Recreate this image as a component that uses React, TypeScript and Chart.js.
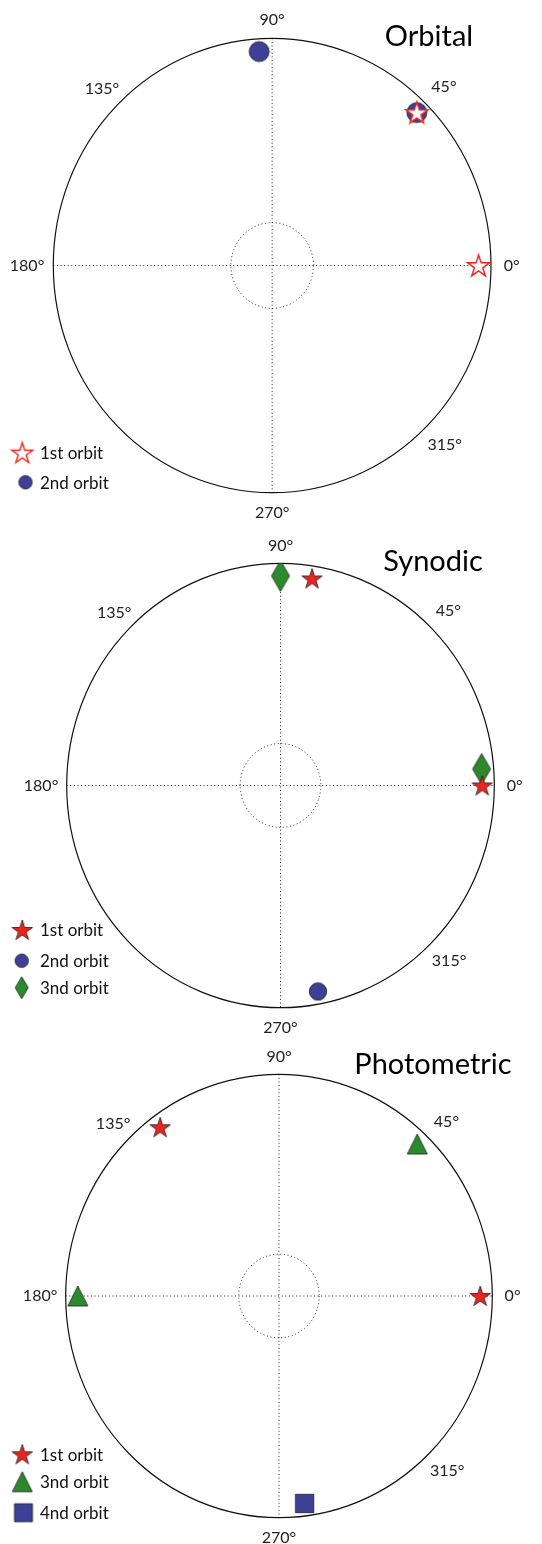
import React, { useEffect, useRef } from "react";
import { Chart, registerables } from "chart.js";
Chart.register(...registerables);

// ---------- data ----------
const RMAX = 1.06;
const GRID_R = 0.2;
const angleTicks = [0, 45, 90, 135, 180, 270, 315];
const angleTickLabels = ["0°", "45°", "90°", "135°", "180°", "270°", "315°"];
const angleLabelOffset = [1.095, 1.11, 1.08, 1.1, 1.12, 1.09, 1.115];

// Orbital
const orbital1stAngles = [45.5, 0];
const orbital1stRadii = [1, 1];
const orbital2ndAngles = [93.6, 45.5];
const orbital2ndRadii = [1, 1];

// Synodic
const synodic1stAngles = [81, 0];
const synodic1stRadii = [1, 1];
const synodic2ndAngles = [280.7];
const synodic2ndRadii = [1];
const synodic3rdAngles = [90, 4.5];
const synodic3rdRadii = [1, 1];

// Photometric
const photo1stAngles = [126.2, 0];
const photo1stRadii = [1, 1];
const photo3rdAngles = [46.6, 180];
const photo3rdRadii = [1, 1];
const photo4thAngles = [277.3];
const photo4thRadii = [1];

const RED = "#e8251f";
const BLUE = "#3c4097";
const GREEN = "#2b8a2b";
const EDGE = "#1e1e1e";
const FONT = "Lato";

// ---------- marker images ----------
function mk(w: number, h: number, draw: (c: CanvasRenderingContext2D, cx: number, cy: number) => void) {
  const c = document.createElement("canvas");
  c.width = Math.ceil(w + 4);
  c.height = Math.ceil(h + 4);
  const ctx = c.getContext("2d")!;
  draw(ctx, c.width / 2, c.height / 2);
  return c;
}
function starPath(ctx: CanvasRenderingContext2D, cx: number, cy: number, r: number) {
  const ri = r * 0.382;
  ctx.beginPath();
  for (let i = 0; i < 10; i++) {
    const rr = i % 2 === 0 ? r : ri;
    const a = -Math.PI / 2 + (i * Math.PI) / 5;
    const x = cx + rr * Math.cos(a);
    const y = cy + rr * Math.sin(a);
    if (i === 0) ctx.moveTo(x, y);
    else ctx.lineTo(x, y);
  }
  ctx.closePath();
}
function star(r: number, fill: string, stroke: string, lw: number) {
  return mk(2 * r, 2 * r, (ctx, cx, cy) => {
    starPath(ctx, cx, cy + r * 0.08, r);
    ctx.fillStyle = fill;
    ctx.fill();
    ctx.lineWidth = lw;
    ctx.strokeStyle = stroke;
    ctx.lineJoin = "miter";
    ctx.stroke();
  });
}
function circle(r: number, fill: string) {
  return mk(2 * r, 2 * r, (ctx, cx, cy) => {
    ctx.beginPath();
    ctx.arc(cx, cy, r, 0, Math.PI * 2);
    ctx.fillStyle = fill;
    ctx.fill();
    ctx.lineWidth = 0.8;
    ctx.strokeStyle = EDGE;
    ctx.stroke();
  });
}
function diamond(hw: number, hh: number, fill: string) {
  return mk(2 * hw, 2 * hh, (ctx, cx, cy) => {
    ctx.beginPath();
    ctx.moveTo(cx, cy - hh);
    ctx.lineTo(cx + hw, cy);
    ctx.lineTo(cx, cy + hh);
    ctx.lineTo(cx - hw, cy);
    ctx.closePath();
    ctx.fillStyle = fill;
    ctx.fill();
    ctx.lineWidth = 0.8;
    ctx.strokeStyle = EDGE;
    ctx.stroke();
  });
}
function triangle(h: number, fill: string) {
  return mk(2 * h, 2 * h, (ctx, cx, cy) => {
    ctx.beginPath();
    ctx.moveTo(cx, cy - h);
    ctx.lineTo(cx + h, cy + h);
    ctx.lineTo(cx - h, cy + h);
    ctx.closePath();
    ctx.fillStyle = fill;
    ctx.fill();
    ctx.lineWidth = 0.8;
    ctx.strokeStyle = EDGE;
    ctx.stroke();
  });
}
function square(h: number, fill: string) {
  return mk(2 * h, 2 * h, (ctx, cx, cy) => {
    ctx.beginPath();
    ctx.rect(cx - h, cy - h, 2 * h, 2 * h);
    ctx.fillStyle = fill;
    ctx.fill();
    ctx.lineWidth = 0.8;
    ctx.strokeStyle = EDGE;
    ctx.stroke();
  });
}

function toXY(angles: number[], radii: number[]) {
  return angles.map((a, i) => ({
    x: radii[i] * Math.cos((a * Math.PI) / 180),
    y: radii[i] * Math.sin((a * Math.PI) / 180),
  }));
}

type LegendItem = { label: string; img: HTMLCanvasElement; x: number; y: number };
type PanelDef = {
  top: number;
  height: number;
  padding: { left: number; right: number; top: number; bottom: number };
  title: string;
  titleX: number;
  titleY: number;
  datasets: { label: string; data: { x: number; y: number }[]; img: HTMLCanvasElement }[];
  legend: LegendItem[];
};

function Panel({ def }: { def: PanelDef }) {
  const ref = useRef<HTMLCanvasElement>(null);
  useEffect(() => {
    const polarPlugin = {
      id: "polarDeco",
      beforeDatasetsDraw(chart: any) {
        const ctx = chart.ctx as CanvasRenderingContext2D;
        const xs = chart.scales.x;
        const ys = chart.scales.y;
        const cx = xs.getPixelForValue(0);
        const cy = ys.getPixelForValue(0);
        const rx = xs.getPixelForValue(RMAX) - cx;
        const ry = cy - ys.getPixelForValue(RMAX);
        ctx.save();
        // dotted grid
        ctx.strokeStyle = "#222";
        ctx.lineWidth = 1;
        ctx.setLineDash([1, 2.6]);
        ctx.beginPath();
        ctx.moveTo(cx - rx, cy);
        ctx.lineTo(cx + rx, cy);
        ctx.moveTo(cx, cy - ry);
        ctx.lineTo(cx, cy + ry);
        ctx.stroke();
        const gx = xs.getPixelForValue(GRID_R) - cx;
        const gy = cy - ys.getPixelForValue(GRID_R);
        ctx.beginPath();
        ctx.ellipse(cx, cy, gx, gy, 0, 0, Math.PI * 2);
        ctx.stroke();
        ctx.setLineDash([]);
        // outer circle
        ctx.strokeStyle = "#111";
        ctx.lineWidth = 1.2;
        ctx.beginPath();
        ctx.ellipse(cx, cy, rx, ry, 0, 0, Math.PI * 2);
        ctx.stroke();
        // angle labels
        ctx.fillStyle = "#222";
        ctx.font = `16px ${FONT}`;
        ctx.textAlign = "center";
        ctx.textBaseline = "middle";
        angleTicks.forEach((a, i) => {
          const rr = RMAX * angleLabelOffset[i];
          const px = xs.getPixelForValue(rr * Math.cos((a * Math.PI) / 180));
          const py = ys.getPixelForValue(rr * Math.sin((a * Math.PI) / 180));
          ctx.fillText(angleTickLabels[i], px, py);
        });
        ctx.restore();
      },
      afterDraw(chart: any) {
        const ctx = chart.ctx as CanvasRenderingContext2D;
        ctx.save();
        ctx.fillStyle = "#000";
        ctx.font = `29px ${FONT}`;
        ctx.textAlign = "center";
        ctx.textBaseline = "alphabetic";
        ctx.fillText(def.title, def.titleX, def.titleY);
        ctx.font = `17px ${FONT}`;
        ctx.textAlign = "left";
        ctx.textBaseline = "middle";
        ctx.fillStyle = "#111";
        def.legend.forEach((it) => {
          ctx.drawImage(it.img, it.x - it.img.width / 2, it.y - it.img.height / 2);
          ctx.fillText(it.label, 40, it.y + 1);
        });
        ctx.restore();
      },
    };
    const chart = new Chart(ref.current!, {
      type: "scatter",
      data: {
        datasets: def.datasets.map((d) => ({
          label: d.label,
          data: d.data,
          pointStyle: d.img as any,
          pointRadius: 10,
          showLine: false,
        })),
      },
      options: {
        responsive: false,
        animation: false,
        events: [],
        devicePixelRatio: 1,
        layout: { padding: def.padding },
        plugins: { legend: { display: false }, tooltip: { enabled: false }, title: { display: false } },
        scales: {
          x: { type: "linear", min: -RMAX, max: RMAX, display: false },
          y: { type: "linear", min: -RMAX, max: RMAX, display: false },
        },
      },
      plugins: [polarPlugin],
    });
    return () => chart.destroy();
  }, [def]);
  return (
    <canvas
      ref={ref}
      width={542}
      height={def.height}
      style={{ position: "absolute", left: 0, top: def.top, width: 542, height: def.height }}
    />
  );
}

function buildPanels(): PanelDef[] {
  const openStar = star(11.5, "#ffffff", RED, 1.5);
  const openStarLeg = star(11, "#ffffff", RED, 1.4);
  const bigCircle = circle(10, BLUE);
  const legCircle = circle(6.7, BLUE);
  const redStar = star(10.8, RED, EDGE, 0.8);
  const legRedStar = star(10.8, RED, EDGE, 0.8);
  const midCircle = circle(8.7, BLUE);
  const bigDiamond = diamond(9, 15.5, GREEN);
  const legDiamond = diamond(6.5, 11, GREEN);
  const tri = triangle(10, GREEN);
  const legTri = triangle(10, GREEN);
  const sq = square(9.2, BLUE);
  const legSq = square(9, BLUE);

  return [
    {
      top: 0,
      height: 540,
      padding: { left: 53.3, right: 51, top: 38.3, bottom: 47.3 },
      title: "Orbital",
      titleX: 429,
      titleY: 46,
      datasets: [
        { label: "1st orbit", data: toXY(orbital1stAngles, orbital1stRadii), img: openStar },
        { label: "2nd orbit", data: toXY(orbital2ndAngles, orbital2ndRadii), img: bigCircle },
      ],
      legend: [
        { label: "1st orbit", img: openStarLeg, x: 22.3, y: 452.7 },
        { label: "2nd orbit", img: legCircle, x: 25.5, y: 482.3 },
      ],
    },
    {
      top: 520,
      height: 520,
      padding: { left: 66.7, right: 47.7, top: 43.3, bottom: 32.3 },
      title: "Synodic",
      titleX: 433,
      titleY: 51,
      datasets: [
        { label: "1st orbit", data: toXY(synodic1stAngles, synodic1stRadii), img: redStar },
        { label: "2nd orbit", data: toXY(synodic2ndAngles, synodic2ndRadii), img: midCircle },
        { label: "3nd orbit", data: toXY(synodic3rdAngles, synodic3rdRadii), img: bigDiamond },
      ],
      legend: [
        { label: "1st orbit", img: legRedStar, x: 22.3, y: 410 },
        { label: "2nd orbit", img: legCircle, x: 21.7, y: 440.7 },
        { label: "3nd orbit", img: legDiamond, x: 21.7, y: 467.7 },
      ],
    },
    {
      top: 1030,
      height: 514,
      padding: { left: 65.7, right: 49.7, top: 44.3, bottom: 26.3 },
      title: "Photometric",
      titleX: 433,
      titleY: 44.3,
      datasets: [
        { label: "1st orbit", data: toXY(photo1stAngles, photo1stRadii), img: redStar },
        { label: "3nd orbit", data: toXY(photo3rdAngles, photo3rdRadii), img: tri },
        { label: "4nd orbit", data: toXY(photo4thAngles, photo4thRadii), img: sq },
      ],
      legend: [
        { label: "1st orbit", img: legRedStar, x: 22.3, y: 424.3 },
        { label: "3nd orbit", img: legTri, x: 22.3, y: 451.7 },
        { label: "4nd orbit", img: legSq, x: 23.5, y: 482.7 },
      ],
    },
  ];
}

export default function App() {
  const panelsRef = useRef<PanelDef[] | null>(null);
  if (!panelsRef.current) panelsRef.current = buildPanels();
  const panels = panelsRef.current;
  return (
    <div style={{ position: "absolute", left: 0, top: 0, width: 542, height: 1544, background: "#fff", overflow: "hidden" }}>
      {panels.map((p, i) => (
        <Panel key={i} def={p} />
      ))}
    </div>
  );
}
